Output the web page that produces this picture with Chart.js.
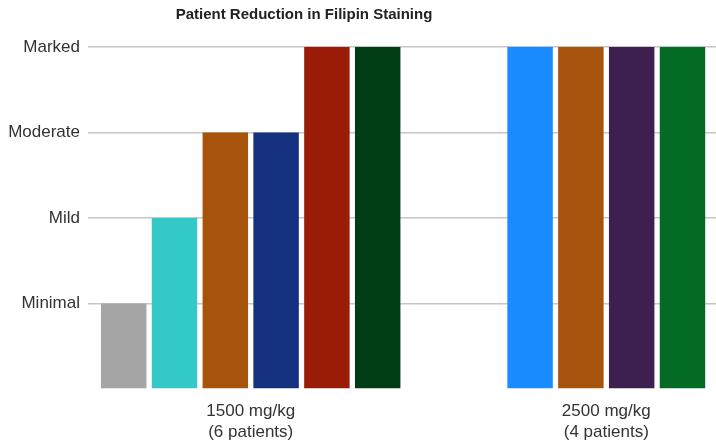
<!DOCTYPE html>
<html>
<head>
<meta charset="utf-8">
<script src="https://cdn.jsdelivr.net/npm/chart.js@4/dist/chart.umd.min.js"></script>
<style>
  html, body { margin: 0; padding: 0; background: #ffffff; }
  #wrap { width: 716px; height: 445px; }
</style>
</head>
<body>
<div id="wrap"><canvas id="chart" width="716" height="445"></canvas></div>
<script>
// Severity scale shown on the y axis (index = score)
const severityLevels = ['', 'Minimal', 'Mild', 'Moderate', 'Marked'];

// Dose groups and their x-axis labels
const doseGroups = ['1500 mg/kg', '2500 mg/kg'];
const groupCounts = ['(6 patients)', '(4 patients)'];

// Reduction score per patient, one array per dose group
const dose1500Scores = [1, 2, 3, 3, 4, 4];
const dose2500Scores = [4, 4, 4, 4];

// Bar colour per patient
const dose1500Colors = ['#a5a5a5', '#33c9c9', '#a8530c', '#14307f', '#9a1c06', '#003d14'];
const dose2500Colors = ['#1a8cff', '#a8530c', '#3d2050', '#036b24'];

// Patients are laid out in consecutive slots, with an empty gap of two slots between groups
const groupGap = 2;
const points = [];
const colors = [];
dose1500Scores.forEach((v, i) => { points.push({ x: i, y: v }); colors.push(dose1500Colors[i]); });
const start2 = dose1500Scores.length + groupGap;
dose2500Scores.forEach((v, i) => { points.push({ x: start2 + i, y: v }); colors.push(dose2500Colors[i]); });

// Label each group at the middle of its run of bars
const groupCenters = [
  (dose1500Scores.length - 1) / 2,
  start2 + (dose2500Scores.length - 1) / 2
];

const FONT = "'Liberation Sans', Arial, Helvetica, sans-serif";

// Shift the title so it sits over the left part of the chart
const titleShift = {
  id: 'titleShift',
  afterLayout(chart) {
    const t = chart.titleBlock;
    if (t) { t.left = 0; t.right = 608; }
  }
};

new Chart(document.getElementById('chart'), {
  type: 'bar',
  data: {
    datasets: [{
      data: points,
      backgroundColor: colors,
      borderWidth: 0,
      barPercentage: 0.895,
      categoryPercentage: 1.0
    }]
  },
  plugins: [titleShift],
  options: {
    responsive: false,
    animation: false,
    layout: { padding: 0 },
    plugins: {
      legend: { display: false },
      tooltip: { enabled: false },
      title: {
        display: true,
        text: 'Patient Reduction in Filipin Staining',
        color: '#222222',
        font: { family: FONT, size: 15, weight: 'bold' },
        padding: { top: 6, bottom: 23 }
      }
    },
    scales: {
      x: {
        type: 'linear',
        offset: false,
        min: -0.703,
        max: 11.66,
        afterFit(scale) { scale.height = 56; },
        grid: { display: false, drawTicks: false },
        border: { display: false },
        afterBuildTicks(scale) {
          scale.ticks = groupCenters.map(v => ({ value: v }));
        },
        ticks: {
          autoSkip: false,
          maxRotation: 0,
          padding: 12,
          color: '#333333',
          font: { family: FONT, size: 17, lineHeight: 1.24 },
          callback(value) {
            const idx = groupCenters.indexOf(value);
            return idx >= 0 ? [doseGroups[idx], groupCounts[idx]] : '';
          }
        }
      },
      y: {
        min: 0,
        max: 4,
        afterFit(scale) { scale.width = 88; },
        grid: {
          drawTicks: false,
          lineWidth: 1.5,
          color: ctx => ctx.tick && ctx.tick.value === 0 ? 'rgba(0,0,0,0)' : '#c6c6c6'
        },
        border: { display: false },
        ticks: {
          stepSize: 1,
          padding: 8,
          color: '#333333',
          font: { family: FONT, size: 17 },
          callback: v => severityLevels[v] || ''
        }
      }
    }
  }
});
</script>
</body>
</html>
